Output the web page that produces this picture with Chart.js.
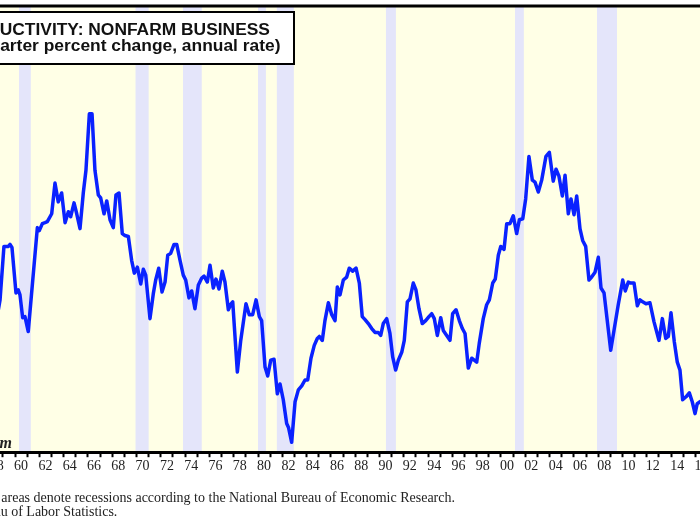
<!DOCTYPE html>
<html>
<head>
<meta charset="utf-8">
<script src="https://cdn.jsdelivr.net/npm/chart.js@4.4.1/dist/chart.umd.min.js"></script>
<style>
  html, body { margin: 0; padding: 0; background: #fff; overflow: hidden; width: 700px; height: 525px; }
  #wrap { position: absolute; left: -100px; top: 0; width: 900px; height: 525px; }
</style>
</head>
<body>
<div id="wrap"><canvas id="prodChart" width="900" height="525"></canvas></div>
<script>
// quarterly-ish readings, decimal years
const years = [1958.5, 1958.77, 1959.09, 1959.45, 1959.59, 1959.75, 1960.08, 1960.27, 1960.41, 1960.63, 1960.82, 1961.09,
  1961.84, 1962.0, 1962.25, 1962.47, 1962.66, 1963.02, 1963.29, 1963.56, 1963.84, 1964.12, 1964.39, 1964.58, 1964.86,
  1965.08, 1965.35, 1965.62, 1965.84, 1966.12, 1966.34, 1966.58, 1966.86, 1967.05, 1967.33, 1967.55, 1967.82, 1968.09,
  1968.31, 1968.56, 1968.83, 1969.05, 1969.33, 1969.60, 1969.82, 1970.07, 1970.35, 1970.56, 1970.76, 1971.11, 1971.38,
  1971.58, 1971.83, 1972.10, 1972.35, 1972.57, 1972.81, 1973.09, 1973.31, 1973.58, 1973.85, 1974.05, 1974.32, 1974.54,
  1974.81, 1975.09, 1975.37, 1975.56, 1975.83, 1976.05, 1976.32, 1976.54, 1976.79, 1977.06, 1977.28, 1977.56, 1977.78,
  1977.92, 1978.30, 1978.58, 1979.01, 1979.28, 1979.56, 1979.84, 1980.11, 1980.30, 1980.58, 1980.80, 1981.05, 1981.32,
  1981.59, 1981.81, 1982.08, 1982.36, 1982.51, 1982.77, 1983.05, 1983.32, 1983.60, 1983.87, 1984.09, 1984.36, 1984.63,
  1984.88, 1985.05, 1985.29, 1985.51, 1985.79, 1986.07, 1986.34, 1986.53, 1986.75, 1987.02, 1987.30, 1987.51, 1987.79,
  1988.07, 1988.34, 1988.58, 1988.81, 1989.08, 1989.36, 1989.63, 1989.90, 1990.10, 1990.31, 1990.59, 1990.86, 1991.09,
  1991.33, 1991.55, 1991.83, 1992.04, 1992.29, 1992.51, 1992.78, 1993.00, 1993.25, 1993.52, 1993.80, 1994.07, 1994.30,
  1994.51, 1994.76, 1995.04, 1995.25, 1995.53, 1995.80, 1996.02, 1996.30, 1996.57, 1996.82, 1997.04, 1997.31, 1997.59,
  1998.00, 1998.21, 1998.54, 1998.82, 1999.04, 1999.32, 1999.53, 1999.78, 1999.98, 2000.25, 2000.47, 2000.74, 2001.01,
  2001.29, 2001.51, 2001.79, 2002.03, 2002.30, 2002.58, 2002.80, 2003.07, 2003.35, 2003.70, 2003.98, 2004.30, 2004.53,
  2004.77, 2005.05, 2005.27, 2005.54, 2005.76, 2006.01, 2006.23, 2006.50, 2006.72, 2006.97, 2007.24, 2007.46, 2007.74,
  2008.01, 2008.23, 2008.48, 2009.03, 2009.30, 2009.65, 2010.02, 2010.23, 2010.48, 2010.67, 2010.95, 2011.22, 2011.44,
  2011.66, 2011.93, 2012.26, 2012.59, 2013.00, 2013.28, 2013.56, 2013.77, 2013.99, 2014.26, 2014.51, 2014.73, 2014.95,
  2015.23, 2015.50, 2015.74, 2015.97, 2016.15, 2016.38, 2016.63];

const productivity = [1.35, 1.54, 2.08, 2.08, 2.10, 2.07, 1.61, 1.64, 1.59, 1.36, 1.37, 1.22,
  2.27, 2.24, 2.31, 2.32, 2.33, 2.41, 2.72, 2.53, 2.62, 2.32, 2.43, 2.38, 2.52,
  2.41, 2.26, 2.62, 2.85, 3.42, 3.42, 2.85, 2.60, 2.57, 2.41, 2.54, 2.35, 2.27,
  2.60, 2.62, 2.21, 2.19, 2.18, 1.94, 1.81, 1.87, 1.70, 1.85, 1.79, 1.35, 1.60,
  1.74, 1.86, 1.62, 1.72, 1.99, 2.01, 2.10, 2.10, 1.94, 1.79, 1.74, 1.56, 1.63,
  1.45, 1.69, 1.76, 1.78, 1.72, 1.89, 1.66, 1.75, 1.65, 1.83, 1.72, 1.44, 1.50,
  1.52, 0.81, 1.13, 1.50, 1.39, 1.39, 1.54, 1.37, 1.33, 0.86, 0.77, 0.93, 0.94,
  0.59, 0.69, 0.53, 0.29, 0.25, 0.10, 0.51, 0.63, 0.67, 0.73, 0.73, 0.95, 1.08,
  1.15, 1.17, 1.13, 1.33, 1.51, 1.39, 1.33, 1.67, 1.59, 1.74, 1.77, 1.86, 1.83,
  1.86, 1.71, 1.37, 1.34, 1.30, 1.25, 1.21, 1.21, 1.18, 1.30, 1.35, 1.20, 0.96,
  0.83, 0.93, 1.01, 1.13, 1.52, 1.55, 1.71, 1.64, 1.45, 1.30, 1.33, 1.37, 1.40,
  1.35, 1.18, 1.36, 1.23, 1.18, 1.13, 1.40, 1.44, 1.33, 1.25, 1.20, 0.85, 0.95,
  0.91, 1.10, 1.35, 1.49, 1.54, 1.71, 1.75, 1.99, 2.08, 2.05, 2.31, 2.31, 2.39,
  2.21, 2.35, 2.36, 2.56, 2.99, 2.75, 2.73, 2.63, 2.75, 2.99, 3.03, 2.74, 2.86,
  2.79, 2.59, 2.80, 2.41, 2.56, 2.40, 2.59, 2.26, 2.14, 2.08, 1.74, 1.77, 1.82,
  1.97, 1.66, 1.61, 1.03, 1.23, 1.49, 1.74, 1.63, 1.72, 1.71, 1.71, 1.48, 1.54,
  1.52, 1.50, 1.51, 1.32, 1.13, 1.35, 1.15, 1.17, 1.41, 1.12, 0.91, 0.83, 0.53,
  0.56, 0.60, 0.51, 0.39, 0.49, 0.51, 0.53];

// NBER recessions (decimal years)
const recessionStart = [1957.58, 1960.33, 1969.92, 1973.83, 1980.0, 1981.55, 1990.53, 2001.15, 2007.9];
const recessionEnd   = [1958.33, 1961.3, 1971.0, 1975.37, 1980.65, 1982.95, 1991.35, 2001.88, 2009.55];

const titleLines = ["PRODUCTIVITY: NONFARM BUSINESS", "(20-quarter percent change, annual rate)"];
const noteLines = [
  "Note: Shaded areas denote recessions according to the National Bureau of Economic Research.",
  "Source: Bureau of Labor Statistics."
];
const watermark = "yardeni.com";

const SHIFT = 100; // canvas pixels hidden off the left of the page

const backdrop = {
  id: "backdrop",
  beforeDraw(chart) {
    const { ctx, chartArea: a, scales: { x } } = chart;
    ctx.save();
    ctx.fillStyle = "#FFFFE6";
    ctx.fillRect(a.left, a.top, a.right - a.left, a.bottom - a.top);
    ctx.fillStyle = "#E4E5FA";
    recessionStart.forEach((s, i) => {
      const x0 = x.getPixelForValue(s);
      const x1 = x.getPixelForValue(recessionEnd[i]);
      ctx.fillRect(x0, a.top, x1 - x0, a.bottom - a.top);
    });
    ctx.restore();
  },
  afterDraw(chart) {
    const { ctx, chartArea: a } = chart;
    ctx.save();
    // top frame line
    ctx.strokeStyle = "#000";
    ctx.lineWidth = 3;
    ctx.beginPath();
    ctx.moveTo(0, a.top - 1);
    ctx.lineTo(chart.width, a.top - 1);
    ctx.stroke();

    // title box
    ctx.fillStyle = "#fff";
    ctx.fillRect(SHIFT - 70, 12, 364, 52);
    ctx.lineWidth = 2;
    ctx.strokeRect(SHIFT - 70, 12, 364, 52);
    ctx.fillStyle = "#111";
    ctx.font = 'bold 17.4px "Liberation Sans", Arial, sans-serif';
    ctx.textBaseline = "alphabetic";
    ctx.fillText(titleLines[0], SHIFT - 50.5, 35);
    ctx.fillText(titleLines[1], SHIFT - 52, 50.5);

    // watermark
    ctx.font = 'bold italic 16px "Liberation Serif", "Times New Roman", serif';
    ctx.textAlign = "right";
    ctx.fillStyle = "#222";
    ctx.fillText(watermark, SHIFT + 12, 448);

    // notes
    ctx.textAlign = "left";
    ctx.font = '14px "Liberation Serif", "Times New Roman", serif';
    ctx.fillStyle = "#222";
    ctx.fillText(noteLines[0], SHIFT - 78, 502);
    ctx.fillText(noteLines[1], SHIFT - 79, 516);
    ctx.restore();
  }
};

const isWhole = v => Math.abs(v - Math.round(v)) < 1e-6;

new Chart(document.getElementById("prodChart").getContext("2d"), {
  type: "line",
  data: {
    datasets: [{
      data: years.map((yr, i) => ({ x: yr, y: productivity[i] })),
      borderColor: "#0A22FF",
      borderWidth: 3.5,
      borderJoinStyle: "round",
      pointRadius: 0,
      tension: 0
    }]
  },
  options: {
    responsive: false,
    animation: false,
    devicePixelRatio: 1,
    layout: { padding: { left: 40, right: 40, top: 7, bottom: 49 } },
    plugins: { legend: { display: false }, tooltip: { enabled: false } },
    scales: {
      x: {
        type: "linear",
        min: 1953.827,
        max: 2021.317,
        border: { display: true, color: "#000", width: 3 },
        grid: {
          drawOnChartArea: false,
          drawTicks: true,
          tickLength: 5,
          tickWidth: 2,
          tickColor: c => (c.tick && isWhole(c.tick.value)) ? "#000" : "rgba(0,0,0,0)"
        },
        ticks: {
          stepSize: 0.5,
          autoSkip: false,
          maxRotation: 0,
          minRotation: 0,
          padding: 1,
          color: "#222",
          font: { family: '"Liberation Serif", "Times New Roman", serif', size: 14 },
          callback: v => {
            if (isWhole(v)) return "";
            const yr = Math.floor(v);
            if (Math.abs(v - yr - 0.5) > 1e-6 || yr % 2 !== 0) return "";
            return String(yr % 100).padStart(2, "0");
          }
        }
      },
      y: { display: false, min: 0, max: 4.5 }
    }
  },
  plugins: [backdrop]
});
</script>
</body>
</html>
